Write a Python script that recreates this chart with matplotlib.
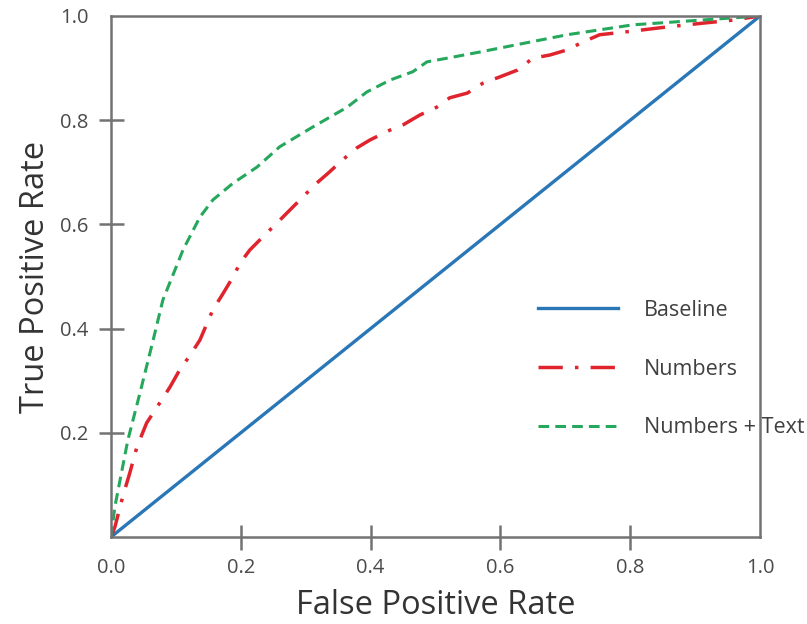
import numpy as np
import matplotlib
matplotlib.use("Agg")
import matplotlib.pyplot as plt

plt.rcParams['font.family'] = ['Open Sans', 'DejaVu Sans']

# ROC curve points
fpr_text = [0.0, 0.006, 0.026, 0.045, 0.065, 0.080, 0.111, 0.137, 0.157, 0.188, 0.225,
            0.260, 0.311, 0.364, 0.394, 0.430, 0.465, 0.487, 0.518, 0.569, 0.646,
            0.703, 0.804, 0.908, 1.0]
tpr_text = [0.0, 0.058, 0.186, 0.278, 0.378, 0.455, 0.551, 0.614, 0.647, 0.679, 0.710,
            0.749, 0.787, 0.825, 0.854, 0.877, 0.893, 0.912, 0.919, 0.931, 0.950,
            0.964, 0.983, 0.992, 1.0]

fpr_num = [0.0, 0.006, 0.018, 0.029, 0.040, 0.055, 0.076, 0.091, 0.106, 0.122, 0.137,
           0.157, 0.173, 0.188, 0.199, 0.214, 0.234, 0.256, 0.276, 0.296, 0.314,
           0.337, 0.357, 0.379, 0.399, 0.430, 0.450, 0.476, 0.502, 0.522, 0.549,
           0.573, 0.599, 0.626, 0.650, 0.676, 0.703, 0.727, 0.753, 0.804, 0.857,
           0.918, 0.958, 1.0]
tpr_num = [0.0, 0.019, 0.077, 0.123, 0.173, 0.219, 0.259, 0.288, 0.321, 0.349, 0.378,
           0.436, 0.468, 0.499, 0.526, 0.551, 0.576, 0.603, 0.628, 0.653, 0.676,
           0.701, 0.724, 0.747, 0.762, 0.781, 0.791, 0.810, 0.825, 0.843, 0.852,
           0.871, 0.883, 0.896, 0.919, 0.925, 0.935, 0.950, 0.964, 0.971, 0.979,
           0.987, 0.992, 1.0]

fpr_base = [0.0, 1.0]
tpr_base = [0.0, 1.0]

fig = plt.figure(figsize=(8.07, 6.24), dpi=100)
ax = fig.add_axes([0.1375, 0.1394, 0.8043, 0.835])

ax.plot(fpr_base, tpr_base, color='#2a77b7', lw=2.4, label='Baseline')
ax.plot(fpr_num, tpr_num, color='#e0242e', lw=2.5, linestyle=(0, (7, 3.5, 1, 3.5)),
        label='Numbers')
ax.plot(fpr_text, tpr_text, color='#25a85c', lw=2.2, linestyle=(0, (3.5, 2)),
        label='Numbers + Text')

ax.set_xlim(0, 1)
ax.set_ylim(0, 1)

for s in ax.spines.values():
    s.set_color('#737373')
    s.set_linewidth(1.8)

ax.set_xticks([0.0, 0.2, 0.4, 0.6, 0.8, 1.0])
ax.set_xticklabels(['0.0', '0.2', '0.4', '0.6', '0.8', '1.0'])
ax.set_yticks([0.2, 0.4, 0.6, 0.8, 1.0])
ax.set_yticklabels(['0.2', '0.4', '0.6', '0.8', '1.0'])
ax.tick_params(direction='inout', length=18, width=1.8, color='#737373',
               labelsize=14.5, labelcolor='#4a4a4a')
ax.tick_params(axis='x', pad=6)
ax.tick_params(axis='y', pad=7)
for t in [ax.xaxis.get_major_ticks()[0], ax.xaxis.get_major_ticks()[-1],
          ax.yaxis.get_major_ticks()[-1]]:
    t.tick1line.set_visible(False)

ax.set_xlabel('False Positive Rate', fontsize=23.5, color='#333333', labelpad=8)
ax.set_ylabel('True Positive Rate', fontsize=23.5, color='#333333', labelpad=6)

leg = ax.legend(loc='upper left', bbox_to_anchor=(0.658, 0.455), frameon=False,
                fontsize=15.5, handlelength=3.7, handletextpad=1.2, labelspacing=1.75,
                borderpad=0, borderaxespad=0)
for txt in leg.get_texts():
    txt.set_color('#404040')

plt.savefig('out.png', dpi=100)
